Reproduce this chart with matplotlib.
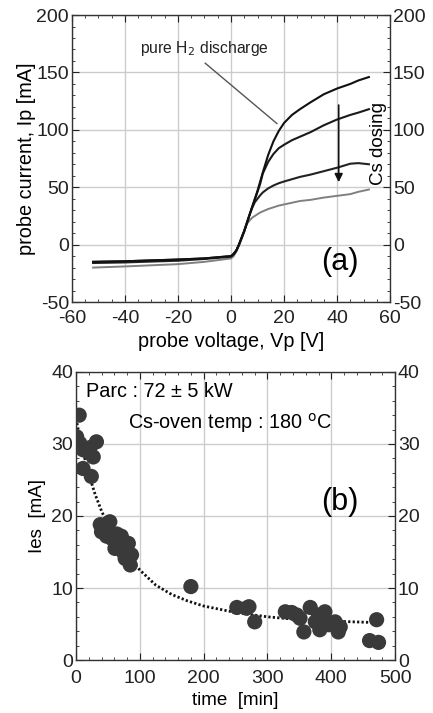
import matplotlib
matplotlib.use("Agg")
import matplotlib.pyplot as plt
from matplotlib.ticker import MultipleLocator

plt.rcParams['font.family'] = ['Liberation Sans', 'DejaVu Sans']
plt.rcParams['axes.unicode_minus'] = False

# (a) probe I-V characteristics
voltage = [-52, -40, -20, -10, 0, 1, 2, 3, 4, 5, 6, 7, 8, 9, 10, 11, 12, 14, 16, 18, 20,
           23, 26, 30, 35, 40, 45, 48, 52]
ip_pure = [-15, -14.5, -13, -12, -10, -8, -5, 0, 6, 12, 19, 26, 33, 40, 47, 55, 63, 78, 90,
           99, 106, 113, 118, 124, 131, 136, 140, 143, 146]
ip_cs1 = [-15, -14.5, -13, -12, -10, -8, -5, 0, 6, 12, 19, 26, 33, 39.5, 46, 53, 62, 72, 79,
          84, 87, 91, 94, 98, 104, 109, 113, 115, 118]
ip_cs2 = [-16, -15.5, -14, -12.5, -10.5, -8.5, -5.5, 0, 6, 12, 19, 26, 32, 37, 40, 43, 45.5,
          49, 51.5, 53.5, 55, 57, 59, 61, 64, 67, 70.5, 71, 70]
ip_cs3 = [-20, -19, -17, -15, -12, -10, -6, -1, 5, 11, 18, 21, 23.5, 25, 26.5, 28, 29, 31,
          32.5, 34, 35, 36.5, 38, 39, 41, 42.5, 44, 46, 48]

# (b) Ies vs time
time_min = [1, 5, 6, 11, 19, 22, 27, 32, 11, 24, 38, 40, 44, 48, 53, 57, 64, 69, 61, 71, 72,
            74, 77, 78, 82, 85, 87, 180, 252, 267, 271, 280, 328, 338, 346, 351, 357, 367,
            375, 380, 382, 390, 396, 406, 411, 414, 460, 471, 474]
ies = [31.0, 34.0, 30.1, 29.2, 28.9, 29.5, 28.2, 30.3, 26.6, 25.5, 18.8, 17.8, 18.5, 17.2, 19.2,
       16.8, 17.5, 16.4, 15.5, 17.2, 16.1, 15.0, 14.1, 15.6, 16.2, 13.2, 14.6, 10.2, 7.3, 7.2,
       7.4, 5.3, 6.7, 6.6, 6.25, 5.8, 3.9, 7.3, 5.3, 6.25, 4.2, 6.7, 4.9, 5.3, 3.9, 4.6, 2.7,
       5.6, 2.45]
fit_time = [0, 10, 20, 30, 40, 50, 60, 80, 100, 125, 150, 175, 200, 250, 300, 350, 400, 470]
fit_ies = [33.5, 29.3, 25.8, 23.0, 20.7, 18.8, 17.1, 14.6, 12.5, 10.4, 9.1, 8.2, 7.5, 6.6, 6.0, 5.6, 5.4, 5.2]

fig = plt.figure(figsize=(4.33, 7.13), dpi=100)
ax1 = fig.add_axes([0.166, 0.5764, 0.735, 0.4025])
ax2 = fig.add_axes([0.1755, 0.0743, 0.737, 0.404])


def style(ax, xpad):
    for s in ax.spines.values():
        s.set_color('#333333')
        s.set_linewidth(1.0)
    ax.grid(True, which='major', color='#cccccc', linewidth=1.0)
    ax.set_axisbelow(True)
    ax.tick_params(which='both', direction='in', top=True, right=True,
                   labelright=True, labelsize=14, colors='#222222')
    ax.tick_params(axis='y', pad=2)
    ax.tick_params(axis='x', pad=xpad)
    ax.tick_params(which='major', length=5)
    ax.tick_params(which='minor', length=2.5)


# panel (a)
ax1.plot(voltage, ip_cs3, color='#808080', lw=1.4)
ax1.plot(voltage, ip_cs2, color='#222222', lw=1.5)
ax1.plot(voltage, ip_cs1, color='#1a1a1a', lw=1.5)
ax1.plot(voltage, ip_pure, color='#111111', lw=1.5)
ax1.set_xlim(-60, 60)
ax1.set_ylim(-50, 200)
ax1.xaxis.set_major_locator(MultipleLocator(20))
ax1.xaxis.set_minor_locator(MultipleLocator(5))
ax1.yaxis.set_major_locator(MultipleLocator(50))
ax1.yaxis.set_minor_locator(MultipleLocator(10))
style(ax1, 6)
ax1.set_xlabel('probe voltage, Vp [V]', fontsize=14.3, labelpad=3)
ax1.set_ylabel('probe current, Ip [mA]', fontsize=14.3, labelpad=0)
ax1.text(-10, 171, 'pure H$_2$ discharge', fontsize=11.3, ha='center', va='center', color='#222222')
ax1.plot([-9.7, 17.3], [158, 105.5], color='#555555', lw=1.0)
ax1.annotate('', xy=(40.6, 52), xytext=(40.6, 124),
             arrowprops=dict(arrowstyle='-|>', color='#111111', lw=1.2, mutation_scale=12))
ax1.text(55.5, 88, 'Cs dosing', rotation=90, fontsize=13.5, ha='center', va='center')
ax1.text(41, -15, '(a)', fontsize=22, ha='center', va='center')

# panel (b)
ax2.plot(fit_time, fit_ies, color='#111111', lw=2.0, linestyle=(0, (0.8, 0.8)), zorder=2)
ax2.scatter(time_min, ies, s=120, color='#3a3a3a', edgecolors='none', zorder=3)
ax2.set_xlim(0, 500)
ax2.set_ylim(0, 40)
ax2.xaxis.set_major_locator(MultipleLocator(100))
ax2.xaxis.set_minor_locator(MultipleLocator(20))
ax2.yaxis.set_major_locator(MultipleLocator(10))
ax2.yaxis.set_minor_locator(MultipleLocator(2))
style(ax2, 7)
ax2.set_xlabel('time  [min]', fontsize=13.5, labelpad=4)
ax2.set_ylabel('Ies  [mA]', fontsize=13.5, labelpad=4)
ax2.text(16, 37.3, 'Parc : 72 \u00b1 5 kW', fontsize=14.3, ha='left', va='center')
ax2.text(82, 32.9, 'Cs-oven temp : 180 $^{\\mathrm{o}}$C', fontsize=14.3, ha='left', va='center')
ax2.text(414, 22, '(b)', fontsize=22, ha='center', va='center')

fig.savefig('out.png', dpi=100)
plt.close(fig)
